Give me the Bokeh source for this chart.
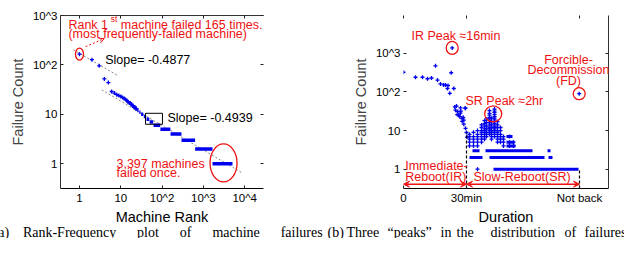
from bokeh.plotting import figure
from bokeh.layouts import row, column
from bokeh.models import Label, Arrow, VeeHead, OpenHead, FixedTicker, LogAxis, LinearAxis, Range1d
from bokeh.embed import file_html
from bokeh.resources import INLINE

# ---------------- data: (a) rank-frequency ----------------
top_ranks = [1, 2, 3, 4, 5, 6, 7, 8, 9, 10, 11, 12, 13, 14, 15, 16, 17, 18, 19, 20, 21, 22, 23, 24]
top_counts = [165, 128, 96, 52, 44, 29, 27, 25, 24, 23, 22, 21, 20, 19, 18, 17, 17, 16, 15, 15, 14, 14, 13, 13]
band_counts = [12, 11, 10, 9, 8, 7, 6, 5, 4, 3, 2, 1]
band_first = [25, 28, 31, 36, 42, 50, 62, 91, 160, 295, 630, 1660]
band_last = [27, 30, 35, 41, 49, 61, 90, 159, 294, 629, 1659, 5056]
fit_slopes = [-0.4877, -0.4939]
fit_coef = [172, 57.7]
fit_from = [0.72, 3.47]
fit_to = [8.3, 8900]
rank_ticks = [1, 10, 100, 1000, 10000]
rank_tick_labels = ["1", "10", "10^2", "10^3", "10^4"]
count_ticks = [1, 10, 100, 1000]
count_tick_labels = ["1", "10", "10^2", "10^3"]

# ---------------- data: (b) duration distribution ----------------
ir_x = [0, 12, 19, 24, 28, 32, 34, 37, 40, 42, 44.5, 44, 47.7, 46.3, 50.3, 48.7]
ir_c = [324, 240, 240, 220, 230, 476, 203, 161, 152, 152, 147, 123, 314, 92, 123, 1380]
desc_x = [51.3, 53, 57, 61.7, 62, 52, 54.3, 57.3, 57, 53.7, 55.3, 56.3, 59.7, 58.7, 60.3, 58.7, 60.3, 62, 63, 63.5]
desc_c = [41, 43, 38.5, 38, 38, 33.7, 31, 32, 28.4, 26, 25, 22.9, 22, 20.4, 18.7, 17.2, 14.6, 11.4, 8.9, 6.8]
sr_col_x = [66, 70, 74, 78, 81, 83, 86, 88, 91, 94, 97, 100, 106, 110]
sr_col_counts = [
    [8, 7, 6, 5, 4],
    [9, 7, 6, 5, 4],
    [10, 8, 7, 6, 5, 4],
    [14, 12, 10, 9, 8, 7, 6, 5],
    [18, 15, 13, 11, 10, 9, 8, 7, 6],
    [20, 16, 13, 11, 9, 8, 7],
    [33, 28, 25, 22, 20, 18, 16, 14, 12, 11, 10, 9, 8],
    [21, 17, 14, 12, 10, 9, 8, 7, 6],
    [36, 32, 29, 26, 23, 21, 19, 17, 15, 13, 12, 11, 10, 9, 8, 7],
    [17, 14, 12, 10, 9, 8, 7, 6, 5],
    [12, 10, 8, 7, 6, 5],
    [7, 6, 5, 4],
    [7, 5, 4],
    [5, 4],
]
row_c = [1, 2, 2, 2, 3, 3, 3, 4, 5, 7]
row_x0 = [90, 66, 86, 145, 69, 82, 144, 103, 103, 103]
row_x1 = [175, 79, 141, 149, 76, 129, 147, 112, 111, 109]
single_x = [74, 175.7]
single_c = [1, 90]
dur_ticks = [0, 63, 176]
dur_tick_labels = ["0", "30min", "Not back"]

# caption words (a) and (b)
cap_a_words = ["(a)", "Rank-Frequency", "plot", "of", "machine", "failures"]
cap_b_words = ["(b)", "Three", "\u201cpeaks\u201d", "in", "the", "distribution", "of", "failures"]

BLUE = "#0000ee"
RED = "#ee1111"
SANS = "Liberation Sans"
ANN = "12.5px"

W_A, W_B = 326, 298
ROW_H, CAP_H = 208, 30
TOP, BOT = 4, 20


def style_axes(p):
    for ax in p.axis:
        ax.major_tick_in = 3
        ax.major_tick_out = 0
        ax.minor_tick_line_color = None
        ax.major_label_text_font = SANS
        ax.major_label_text_font_size = "11.5px"
        ax.major_label_text_color = "black"
        ax.major_label_standoff = 3
        ax.axis_label_text_font = SANS
        ax.axis_label_text_font_size = "14.5px"
        ax.axis_label_text_font_style = "normal"
        ax.axis_label_standoff = 4
        ax.major_tick_line_color = "#222222"


def blank_axis(ax, ticks, line_color):
    ax.major_label_overrides = {t: " " for t in ticks}
    ax.major_label_standoff = 0
    ax.axis_line_color = line_color


def lab(p, x, y, text, color=RED, size=ANN, align="left", font=SANS, baseline="middle"):
    p.add_layout(Label(x=x, y=y, text=text, text_color=color, text_font=font,
                       text_font_size=size, text_baseline=baseline, text_align=align))


# ---------------- figure (a) ----------------
pa = figure(width=W_A, height=ROW_H, x_axis_type="log", y_axis_type="log",
            x_range=(0.347, 28500), y_range=(0.316, 1000),
            min_border_left=60, min_border_right=W_A - 60 - 203, min_border_top=TOP,
            min_border_bottom=BOT, output_backend="svg", toolbar_location=None)
pa.grid.visible = False
pa.outline_line_color = None
pa.yaxis.axis_label = "Failure Count"
pa.xaxis.ticker = FixedTicker(ticks=rank_ticks)
pa.yaxis.ticker = FixedTicker(ticks=count_ticks)
pa.xaxis.major_label_overrides = dict(zip(rank_ticks, rank_tick_labels))
pa.yaxis.major_label_overrides = dict(zip(count_ticks, count_tick_labels))
ta = LogAxis(ticker=FixedTicker(ticks=rank_ticks))
ra = LogAxis(ticker=FixedTicker(ticks=count_ticks))
pa.add_layout(ta, "above")
pa.add_layout(ra, "right")
style_axes(pa)
blank_axis(ta, rank_ticks, None)
blank_axis(ra, count_ticks, None)
pa.xaxis[0].axis_line_color = "#333333"
pa.yaxis[0].axis_line_color = "#333333"

for s, a0, r0, r1 in zip(fit_slopes, fit_coef, fit_from, fit_to):
    pa.line([r0, r1], [a0 * r0 ** s, a0 * r1 ** s], line_color="#888888", line_dash="2 2", line_width=1)
pa.segment(x0=band_first, y0=band_counts, x1=band_last, y1=band_counts, line_color=BLUE, line_width=3.5)
pa.scatter(top_ranks, top_counts, marker="cross", size=4, line_color=BLUE, line_width=1.3)
pa.quad(left=[39.6], right=[102], bottom=[6.3], top=[10.5], fill_color=None, line_color="black", line_width=1)
pa.ellipse(x=[top_ranks[0]], y=[top_counts[0]], width=[8], height=[12], width_units="screen",
           height_units="screen", fill_color=None, line_color=RED, line_width=1.3)
pa.ellipse(x=[3070], y=[1.04], width=[27], height=[38], width_units="screen",
           height_units="screen", fill_color=None, line_color=RED, line_width=1.3)
pa.add_layout(Arrow(end=OpenHead(size=5, line_color=RED, line_width=1), x_start=1.4, y_start=234,
                    x_end=3.96, y_end=341, line_color=RED, line_dash="2 2", line_width=1))
lab(pa, 0.54, 655, "Rank 1")
lab(pa, 5.73, 830, "st", size="8.5px")
lab(pa, 10, 655, "machine failed 165 times.")
lab(pa, 0.54, 425, "(most frequently-failed machine)")
lab(pa, 4.19, 124, "Slope= -0.4877", color="black")
lab(pa, 135, 8.3, "Slope= -0.4939", color="black")
lab(pa, 7.87, 1.01, "3,397 machines")
lab(pa, 7.87, 0.65, "failed once.")

# ---------------- figure (b) ----------------
pb = figure(width=W_B, height=ROW_H, y_axis_type="log",
            x_range=(0, 205), y_range=(0.316, 9550),
            min_border_left=77, min_border_right=W_B - 77 - 205, min_border_top=TOP,
            min_border_bottom=BOT, output_backend="svg", toolbar_location=None)
pb.grid.visible = False
pb.outline_line_color = None
pb.yaxis.axis_label = "Failure Count"
pb.xaxis.ticker = FixedTicker(ticks=dur_ticks)
pb.yaxis.ticker = FixedTicker(ticks=count_ticks)
pb.xaxis.major_label_overrides = dict(zip(dur_ticks, dur_tick_labels))
pb.yaxis.major_label_overrides = dict(zip(count_ticks, count_tick_labels))
tb = LinearAxis(ticker=FixedTicker(ticks=dur_ticks))
rb = LogAxis(ticker=FixedTicker(ticks=count_ticks))
pb.add_layout(tb, "above")
pb.add_layout(rb, "right")
style_axes(pb)
blank_axis(tb, dur_ticks, "#333333")
blank_axis(rb, count_ticks, "#333333")
pb.xaxis[0].axis_line_color = None
pb.yaxis[0].axis_line_color = None

sr_x, sr_c = [], []
for cx, cs in zip(sr_col_x, sr_col_counts):
    for c in cs:
        sr_x.append(cx)
        sr_c.append(c)

pb.segment(x0=row_x0, y0=row_c, x1=row_x1, y1=row_c, line_color=BLUE, line_width=3)
pb.scatter(ir_x + desc_x + sr_x + single_x, ir_c + desc_c + sr_c + single_c,
           marker="cross", size=4, line_color=BLUE, line_width=1.3)

pb.segment(x0=[dur_ticks[1], dur_ticks[2]], y0=[0.316, 0.316], x1=[dur_ticks[1], dur_ticks[2]],
           y1=[8.9, 1.0], line_color="black", line_dash="3 2", line_width=1.2)
pb.ellipse(x=[ir_x[-1], sr_col_x[7] + 1.7, single_x[1]], y=[ir_c[-1], 27, single_c[1]],
           width=[12, 17, 12], height=[13, 16, 12], width_units="screen", height_units="screen",
           fill_color=None, line_color=RED, line_width=1.3)
for xa, xb in [(dur_ticks[0], dur_ticks[1]), (dur_ticks[1], dur_ticks[2])]:
    pb.add_layout(Arrow(start=VeeHead(size=6, fill_color=RED, line_color=RED),
                        end=VeeHead(size=6, fill_color=RED, line_color=RED),
                        x_start=xa, y_start=0.41, x_end=xb, y_end=0.41, line_color=RED, line_width=1.5))
lab(pb, 8, 2860, "IR Peak \u224816min")
lab(pb, 62, 58.7, "SR Peak \u22482hr")
lab(pb, 165, 665, "Forcible-", align="center")
lab(pb, 165, 370, "Decommission", align="center")
lab(pb, 165, 196, "(FD)", align="center")
lab(pb, 1.7, 1.22, "Immediate-")
lab(pb, 1.7, 0.62, "Reboot(IR)")
lab(pb, 70, 0.62, "Slow-Reboot(SR)")

# ---------------- axis titles + caption strip (x = page pixels - 8) ----------------
pc = figure(width=W_A + W_B, height=CAP_H, title=None, x_range=Range1d(0, W_A + W_B),
            y_range=Range1d(0, CAP_H), x_axis_location=None, y_axis_location=None,
            min_border=0, min_border_left=0, min_border_right=0, min_border_top=0, min_border_bottom=0,
            output_backend="svg", toolbar_location=None)
pc.grid.visible = False
pc.outline_line_color = None
lab(pc, 161.5, 22, "Machine Rank", color="black", size="14.5px", align="center")
lab(pc, 505.5, 22, "Duration", color="black", size="14.5px", align="center")
for w, px in zip(cap_a_words + cap_b_words,
                 [-7, 22.4, 136.6, 179.3, 211.9, 280.2, 327, 346, 387, 440, 456, 490, 564, 584]):
    lab(pc, px, 6, w, color="black", size="14px", font="Liberation Serif", baseline="alphabetic")

open("out.html", "w").write(file_html(column(row(pa, pb), pc), INLINE))
